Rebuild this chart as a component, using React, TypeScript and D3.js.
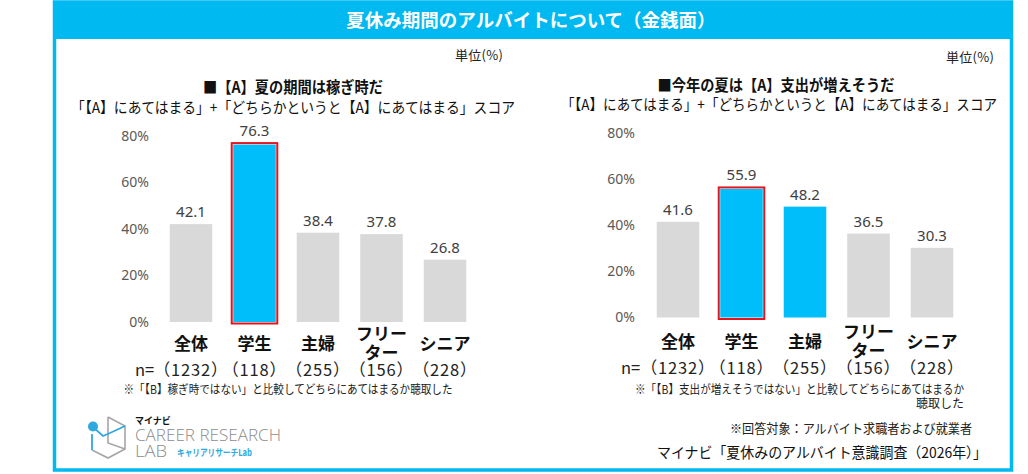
import React from "react";
import * as d3 from "d3";

// chart data
const categories = ["全体", "学生", "主婦", "フリーター", "シニア"];
const categoryLines = [["全体"], ["学生"], ["主婦"], ["フリー", "ター"], ["シニア"]];
const sampleSizes = ["（1232）", "（118）", "（255）", "（156）", "（228）"];
const earnValues = [42.1, 76.3, 38.4, 37.8, 26.8];
const spendValues = [41.6, 55.9, 48.2, 36.5, 30.3];
const earnBlue = ["学生"];
const spendBlue = ["学生", "主婦"];
const outlined = ["学生"];
const yTicks = [0, 20, 40, 60, 80];

const JP = "'Noto Sans CJK JP', 'Noto Sans', sans-serif";
const NUM = "'Noto Sans', 'DejaVu Sans', sans-serif";
const FRAME = "#00B9F0";
const BLUE = "#00BEFA";
const GRAY = "#D9D9D9";
const RED = "#E3141C";

interface PanelProps {
  values: number[];
  blue: string[];
  range: [number, number];
  base: number;
  top: number;
  tickX: number;
  catY: number;
  nY: number;
  nX: number;
}

const Panel: React.FC<PanelProps> = ({ values, blue, range, base, top, tickX, catY, nY, nX }) => {
  const x = d3
    .scaleBand<string>()
    .domain(categories)
    .range(range)
    .paddingInner(0.33)
    .paddingOuter(0.165);
  const y = d3.scaleLinear().domain([0, 80]).range([base, top]);
  const bw = x.bandwidth();

  return (
    <g>
      {yTicks.map((t) => (
        <text
          key={t}
          x={tickX}
          y={y(t)}
          dy="0.35em"
          textAnchor="end"
          fontFamily={NUM}
          fontSize={14}
          fill="#595959"
        >
          {t}%
        </text>
      ))}
      {categories.map((c, i) => {
        const bx = x(c) ?? 0;
        const v = values[i];
        const isOut = outlined.includes(c);
        return (
          <g key={c}>
            <rect
              x={bx}
              y={y(v)}
              width={bw}
              height={y(0) - y(v)}
              fill={blue.includes(c) ? BLUE : GRAY}
            />
            {isOut && (
              <rect
                x={bx - 1.5}
                y={y(v) - 1.5}
                width={bw + 3}
                height={y(0) - y(v) + 3}
                fill="none"
                stroke={RED}
                strokeWidth={2}
              />
            )}
            <text
              x={bx + bw / 2}
              y={y(v) - (isOut ? 9 : 7)}
              textAnchor="middle"
              fontFamily={NUM}
              fontSize={15}
              fill="#404040"
            >
              {v.toFixed(1)}
            </text>
            {categoryLines[i].map((line, j) => (
              <text
                key={j}
                x={bx + bw / 2}
                y={categoryLines[i].length > 1 ? catY - 10 + j * 19 : catY}
                textAnchor="middle"
                fontFamily={JP}
                fontWeight="bold"
                fontSize={17}
                fill="#111"
              >
                {line}
              </text>
            ))}
            <text
              x={bx + bw / 2}
              y={nY}
              textAnchor="middle"
              fontFamily={JP}
              fontSize={16.5}
              letterSpacing={0.8}
              fill="#222"
            >
              {sampleSizes[i]}
            </text>
          </g>
        );
      })}
      <text x={nX} y={nY} fontFamily={JP} fontSize={16.5} fill="#222">
        n=
      </text>
    </g>
  );
};

const Logo: React.FC = () => (
  <g>
    <path
      d="M108,417 L125,426 L125,449 L108,458 L92,450 M108,417 L108,443 L125,449"
      fill="none"
      stroke="#A6A6A6"
      strokeWidth={1.6}
    />
    <path
      d="M93,427 L103,436 L110,433 L125,426 M92,434 L92,450"
      fill="none"
      stroke="#2FA8E0"
      strokeWidth={1.8}
    />
    <circle cx={93} cy={426.5} r={5} fill="#2FA8E0" />
    <text x={135} y={424} fontFamily={JP} fontWeight="bold" fontSize={9} fill="#111">
      マイナビ
    </text>
    <text
      x={135}
      y={440.5}
      fontFamily="'Open Sans', sans-serif"
      fontWeight={300}
      fontSize={15.5}
      fill="#8C8C8C"
      textLength={146}
      lengthAdjust="spacingAndGlyphs"
    >
      CAREER RESEARCH
    </text>
    <text
      x={135}
      y={456.5}
      fontFamily="'Open Sans', sans-serif"
      fontWeight={300}
      fontSize={15.5}
      fill="#8C8C8C"
      textLength={32}
      lengthAdjust="spacingAndGlyphs"
    >
      LAB
    </text>
    <text
      x={177}
      y={456}
      fontFamily={JP}
      fontWeight="bold"
      fontSize={9.5}
      fill="#2FA8E0"
      textLength={75}
      lengthAdjust="spacingAndGlyphs"
    >
      キャリアリサーチLab
    </text>
  </g>
);

const App: React.FC = () => {
  return (
    <svg
      width={1028}
      height={474}
      style={{ position: "absolute", left: 0, top: 0, display: "block" }}
    >
      <rect width={1028} height={474} fill="#fff" />
      {/* frame and banner */}
      <rect x={54.5} y={2} width={957} height={468} fill="none" stroke={FRAME} strokeWidth={3.5} />
      <rect x={53} y={1} width={960} height={38} fill={FRAME} />
      <text
        x={531}
        y={27}
        textAnchor="middle"
        fontFamily={JP}
        fontWeight="bold"
        fontSize={18.5}
        fill="#fff"
      >
        夏休み期間のアルバイトについて（金銭面）
      </text>

      {/* left panel headings */}
      <text
        x={503}
        y={60}
        textAnchor="end"
        fontFamily={JP}
        fontSize={13}
        fill="#222"
        textLength={48}
        lengthAdjust="spacing"
      >
        単位(%)
      </text>
      <text
        x={293}
        y={93}
        textAnchor="middle"
        fontFamily={JP}
        fontWeight="bold"
        fontSize={15.5}
        fill="#111"
        textLength={180}
        lengthAdjust="spacingAndGlyphs"
      >
        ■【A】夏の期間は稼ぎ時だ
      </text>
      <text
        x={293}
        y={113}
        textAnchor="middle"
        fontFamily={JP}
        fontSize={15}
        fill="#111"
        textLength={444}
        lengthAdjust="spacingAndGlyphs"
      >
        「【A】にあてはまる」+「どちらかというと【A】にあてはまる」スコア
      </text>

      {/* right panel headings */}
      <text
        x={994}
        y={62}
        textAnchor="end"
        fontFamily={JP}
        fontSize={13}
        fill="#222"
        textLength={48}
        lengthAdjust="spacing"
      >
        単位(%)
      </text>
      <text
        x={776}
        y={91}
        textAnchor="middle"
        fontFamily={JP}
        fontWeight="bold"
        fontSize={15.5}
        fill="#111"
        textLength={237}
        lengthAdjust="spacingAndGlyphs"
      >
        ■今年の夏は【A】支出が増えそうだ
      </text>
      <text
        x={779}
        y={110}
        textAnchor="middle"
        fontFamily={JP}
        fontSize={15}
        fill="#111"
        textLength={436}
        lengthAdjust="spacingAndGlyphs"
      >
        「【A】にあてはまる」+「どちらかというと【A】にあてはまる」スコア
      </text>

      <Panel
        values={earnValues}
        blue={earnBlue}
        range={[159.25, 476.75]}
        base={322}
        top={136}
        tickX={149}
        catY={350}
        nY={376}
        nX={135}
      />
      <Panel
        values={spendValues}
        blue={spendBlue}
        range={[646.25, 963.75]}
        base={317.5}
        top={133.5}
        tickX={635}
        catY={348}
        nY={374}
        nX={621}
      />

      {/* notes */}
      <text
        x={288}
        y={394}
        textAnchor="middle"
        fontFamily={JP}
        fontSize={12}
        fill="#222"
        textLength={329}
        lengthAdjust="spacingAndGlyphs"
      >
        ※「【B】稼ぎ時ではない」と比較してどちらにあてはまるか聴取した
      </text>
      <text
        x={964}
        y={394}
        textAnchor="end"
        fontFamily={JP}
        fontSize={12}
        fill="#222"
        textLength={329}
        lengthAdjust="spacingAndGlyphs"
      >
        ※「【B】支出が増えそうではない」と比較してどちらにあてはまるか
      </text>
      <text x={964} y={408} textAnchor="end" fontFamily={JP} fontSize={12} fill="#222">
        聴取した
      </text>
      <text
        x={972}
        y={433}
        textAnchor="end"
        fontFamily={JP}
        fontSize={13}
        fill="#222"
        textLength={242}
        lengthAdjust="spacingAndGlyphs"
      >
        ※回答対象：アルバイト求職者および就業者
      </text>
      <text
        x={987}
        y={458}
        textAnchor="end"
        fontFamily={JP}
        fontSize={14.5}
        fill="#111"
        textLength={330}
        lengthAdjust="spacingAndGlyphs"
      >
        マイナビ「夏休みのアルバイト意識調査（2026年）」
      </text>

      <Logo />
    </svg>
  );
};

export default App;
